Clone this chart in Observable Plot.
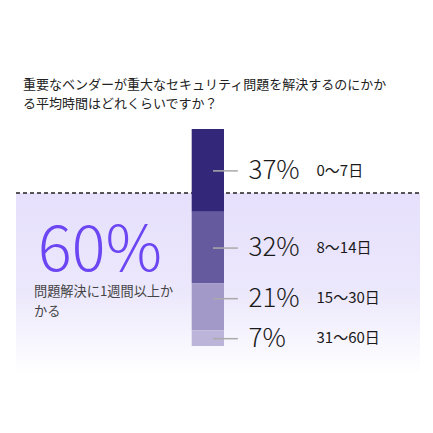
<!DOCTYPE html>
<html><head><meta charset="utf-8">
<script src="https://cdn.jsdelivr.net/npm/d3@7"></script>
<script src="https://cdn.jsdelivr.net/npm/@observablehq/plot@0.6"></script>
<style>
body{margin:0;background:#fff;font-family:"Noto Sans CJK JP","Noto Sans",sans-serif;}
#wrap{width:433px;height:433px;overflow:hidden;}
#title{box-sizing:border-box;width:433px;height:112px;padding:74px 0 0 23px;font-size:13px;line-height:19px;color:#222;white-space:nowrap;}
</style></head>
<body><div id="wrap"><div id="title"></div><div id="chart"></div></div>
<script>
const titleLines = ["重要なベンダーが重大なセキュリティ問題を解決するのにかか", "る平均時間はどれくらいですか？"];
const ranges = ["0〜7日", "8〜14日", "15〜30日", "31〜60日"];
const percents = [37, 32, 21, 7];
const calloutValue = "60%";
const calloutLines = ["問題解決に1週間以上か", "かる"];

const titleEl = document.getElementById("title");
titleLines.forEach(t => { const d = document.createElement("div"); d.textContent = t; titleEl.appendChild(d); });

let acc = 0;
const data = ranges.map((r, i) => {
  const y1 = acc; acc += percents[i];
  return {range: r, pct: percents[i], label: percents[i] + "%", y1, y2: acc, mid: (y1 + acc) / 2};
});

const W = 433, H = 321;
const yRange = [17, 234];
// keep labels apart: minimum gap of 40px, expressed in data units, staying within each segment
const minGap = 40 * acc / (yRange[1] - yRange[0]);
for (let i = data.length - 1; i >= 0; i--) {
  let p = data[i].mid;
  if (i < data.length - 1) p = Math.min(p, data[i + 1].pos - minGap);
  data[i].pos = Math.max(p, data[i].y1 + 2);
}

const chart = Plot.plot({
  width: W, height: H,
  margin: 0,
  style: {fontFamily: '"Noto Sans CJK JP", sans-serif', background: "transparent", overflow: "visible"},
  x: {domain: [0, 1], range: [191.7, 224], axis: null},
  y: {domain: [0, acc], range: yRange, axis: null},
  color: {domain: ranges, range: ["#33277a", "#665a9f", "#a299c9", "#bcb5d9"]},
  marks: [
    Plot.rect(data, {x1: 0, x2: 1, y1: "y1", y2: "y2", fill: "range"}),
    Plot.ruleY(data, {y: "pos", x1: 0.66, x2: 1.43, stroke: "#aaaaaa", strokeWidth: 1.5}),
    Plot.text(data, {x: 1, y: "pos", text: "label", dx: 24, textAnchor: "start", fontSize: 26, fontWeight: 300, fill: "#1a1a1a"}),
    Plot.text(data, {x: 1, y: "pos", text: "range", dx: 92, textAnchor: "start", fontSize: 15, fill: "#1a1a1a"})
  ]
});

const svg = d3.select(chart);
const defs = svg.insert("defs", ":first-child");
const grad = defs.append("linearGradient").attr("id", "bgfade").attr("x1", 0).attr("y1", 0).attr("x2", 0).attr("y2", 1);
grad.append("stop").attr("offset", "0%").attr("stop-color", "#e6e0fc");
grad.append("stop").attr("offset", "55%").attr("stop-color", "#ece8fc");
grad.append("stop").attr("offset", "100%").attr("stop-color", "#ffffff");
const bg = svg.insert("g", "defs + *");
bg.append("rect").attr("x", 16).attr("y", 81).attr("width", 404).attr("height", 182).attr("fill", "url(#bgfade)");
bg.append("line").attr("x1", 16).attr("x2", 420).attr("y1", 81).attr("y2", 81)
  .attr("stroke", "#222").attr("stroke-width", 1.5).attr("stroke-dasharray", "4,3");

const call = svg.append("g").attr("font-family", '"Noto Sans CJK JP", sans-serif').attr("text-anchor", "start");
call.append("text").attr("x", 38).attr("y", 159).attr("font-size", 63).attr("font-weight", 300)
  .attr("fill", "#6b46f2").text(calloutValue);
calloutLines.forEach((t, i) => {
  call.append("text").attr("x", 34).attr("y", 184 + i * 20).attr("font-size", 13.2)
    .attr("fill", "#444").text(t);
});

document.getElementById("chart").appendChild(chart);
</script>
</body></html>
